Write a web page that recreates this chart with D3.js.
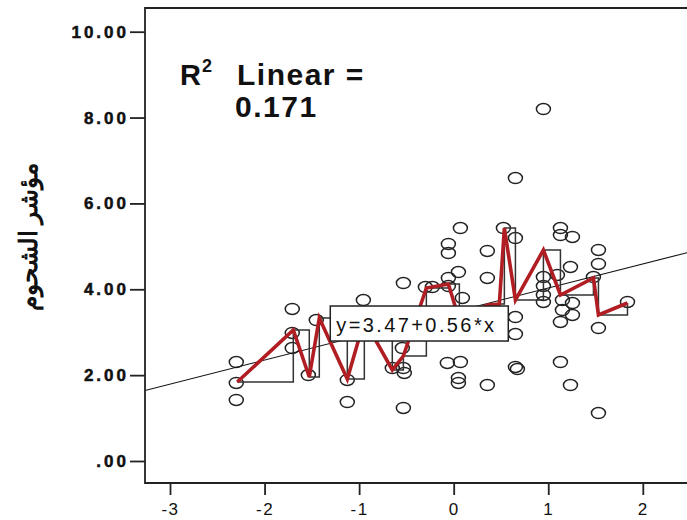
<!DOCTYPE html>
<html>
<head>
<meta charset="utf-8">
<script src="https://cdn.jsdelivr.net/npm/d3@7/dist/d3.min.js"></script>
<style>
  html, body { margin: 0; padding: 0; background: #fff; }
  svg { display: block; }
  text { font-family: "Liberation Sans", Arial, sans-serif; fill: #111; }
</style>
</head>
<body>
<svg id="chart" width="687" height="520"></svg>
<script>
// Observations: predictor (standardised) and fat index
const pointX = [
  -2.299, -2.299, -2.299, -1.707, -1.707, -1.707, -1.537, -1.453, -1.125, -1.125,
  -0.955, -0.649, -0.532, -0.522, -0.543, -0.532, -0.532, -0.299, -0.225, -0.056,
  -0.056, -0.056, -0.056, 0.071, 0.050, 0.092, -0.067, 0.071, 0.050, 0.050,
  0.356, 0.356, 0.356, 0.526, 0.653, 0.653, 0.653, 0.653, 0.653, 0.674,
  0.949, 0.949, 0.949, 0.949, 0.949, 1.129, 1.129, 1.256, 1.235, 1.097,
  1.150, 1.256, 1.150, 1.256, 1.129, 1.129, 1.235, 1.478, 1.531, 1.531,
  1.531, 1.531, 1.838
];
const pointY = [
  2.306, 1.817, 1.421, 3.541, 2.982, 2.632, 2.003, 3.284, 1.887, 1.374,
  3.750, 2.166, 2.166, 2.050, 2.632, 1.235, 4.146, 4.053, 4.053, 5.055,
  4.845, 4.263, 4.076, 5.427, 4.402, 3.797, 2.283, 2.306, 1.933, 1.817,
  4.892, 4.263, 1.770, 5.427, 5.194, 6.592, 3.354, 2.958, 2.190, 2.143,
  8.199, 4.286, 4.076, 3.867, 3.704, 5.427, 5.264, 5.218, 4.519, 4.333,
  3.750, 3.680, 3.517, 3.401, 3.238, 2.306, 1.770, 4.286, 4.915, 4.589,
  3.098, 1.118, 3.704
];

// Mean fat index at each distinct predictor value (interpolation line)
const meanX = [-2.289, -1.696, -1.527, -1.421, -1.125, -0.945, -0.649, -0.532, -0.289, -0.056,
               0.060, 0.356, 0.483, 0.536, 0.653, 0.949, 1.129, 1.478, 1.531, 1.838];
const meanY = [1.840, 3.051, 1.957, 3.331, 1.910, 3.284, 2.120, 2.446, 4.030, 4.123,
               3.284, 3.634, 3.657, 5.427, 3.750, 4.915, 3.867, 4.263, 3.401, 3.680];

// Linear fit
const fitIntercept = 3.47;
const fitSlope = 0.56;
const rSquared = "0.171";

// Axis ticks
const xTicks = [-3, -2, -1, 0, 1, 2];
const xTickLabels = ["-3", "-2", "-1", "0", "1", "2"];
const yTicks = [0, 2, 4, 6, 8, 10];
const yTickLabels = [".00", "2.00", "4.00", "6.00", "8.00", "10.00"];
const yTitle = "مؤشر الشحوم";

const svg = d3.select("#chart");

// Plot frame (right side runs past the page edge)
const frame = { left: 145, top: 8, bottom: 483, right: 720 };

const x = d3.scaleLinear().domain([-3, 2]).range([170, 642.8]);
const y = d3.scaleLinear().domain([0, 10]).range([461, 31.7]);

svg.append("defs").append("clipPath").attr("id", "plotClip")
  .append("rect")
  .attr("x", frame.left).attr("y", frame.top)
  .attr("width", frame.right - frame.left).attr("height", frame.bottom - frame.top);

const plot = svg.append("g").attr("clip-path", "url(#plotClip)");

// Scatter points
plot.append("g").selectAll("ellipse")
  .data(d3.range(pointX.length))
  .join("ellipse")
  .attr("cx", i => x(pointX[i]))
  .attr("cy", i => y(pointY[i]))
  .attr("rx", 7)
  .attr("ry", 5.6)
  .attr("fill", "none")
  .attr("stroke", "#222")
  .attr("stroke-width", 1.5);

// Fit line across the whole frame
const xLo = x.invert(frame.left), xHi = x.invert(frame.right);
plot.append("line")
  .attr("x1", x(xLo)).attr("y1", y(fitIntercept + fitSlope * xLo))
  .attr("x2", x(xHi)).attr("y2", y(fitIntercept + fitSlope * xHi))
  .attr("stroke", "#111")
  .attr("stroke-width", 1.1);

const meanPts = meanX.map((v, i) => [v, meanY[i]]);

// Step interpolation of the means
plot.append("path")
  .datum(meanPts)
  .attr("d", d3.line().x(d => x(d[0])).y(d => y(d[1])).curve(d3.curveStepAfter))
  .attr("fill", "none")
  .attr("stroke", "#333")
  .attr("stroke-width", 1.5);

// Straight interpolation of the means
plot.append("path")
  .datum(meanPts)
  .attr("d", d3.line().x(d => x(d[0])).y(d => y(d[1])))
  .attr("fill", "none")
  .attr("stroke", "#b01e23")
  .attr("stroke-width", 3.6)
  .attr("stroke-linejoin", "miter");

// Frame lines: left, top, bottom
const frameG = svg.append("g").attr("stroke", "#222").attr("stroke-width", 1.8).attr("fill", "none");
frameG.append("path")
  .attr("d", `M${frame.right},${frame.top}H${frame.left}V${frame.bottom}H${frame.right}`);

// Y axis
const yAxis = svg.append("g")
  .attr("transform", `translate(${frame.left},0)`)
  .call(d3.axisLeft(y).tickValues(yTicks)
    .tickFormat((d, i) => yTickLabels[i])
    .tickSize(15).tickPadding(1).tickSizeOuter(0));
yAxis.select(".domain").remove();
yAxis.selectAll(".tick line").attr("stroke", "#222").attr("stroke-width", 1.8);
yAxis.selectAll(".tick text")
  .attr("font-family", "'Liberation Sans', Arial, sans-serif")
  .attr("font-size", 17).attr("font-weight", "bold")
  .attr("letter-spacing", "3px")
  .attr("stroke", "#111").attr("stroke-width", 0.5)
  .attr("fill", "#111");

// X axis
const xAxis = svg.append("g")
  .attr("transform", `translate(0,${frame.bottom})`)
  .call(d3.axisBottom(x).tickValues(xTicks)
    .tickFormat((d, i) => xTickLabels[i])
    .tickSize(12).tickPadding(8).tickSizeOuter(0));
xAxis.select(".domain").remove();
xAxis.selectAll(".tick line").attr("stroke", "#222").attr("stroke-width", 1.8);
xAxis.selectAll(".tick text")
  .attr("font-family", "'Liberation Sans', Arial, sans-serif")
  .attr("font-size", 17)
  .attr("letter-spacing", "1.5px")
  .attr("fill", "#111");

// Y title
svg.append("text")
  .attr("transform", "translate(28,237) rotate(-90)")
  .attr("text-anchor", "middle")
  .attr("dominant-baseline", "central")
  .attr("font-family", "'DejaVu Sans', sans-serif")
  .attr("font-size", 25)
  .attr("font-weight", "bold")
  .text(yTitle);

// R squared annotation
const r2 = svg.append("g").attr("font-weight", "bold");
r2.append("text").attr("x", 180).attr("y", 85).attr("font-size", 29).text("R");
r2.append("text").attr("x", 202).attr("y", 72).attr("font-size", 18).text("2");
r2.append("text").attr("x", 237).attr("y", 85).attr("font-size", 30)
  .attr("letter-spacing", "1.5px").text("Linear =");
r2.append("text").attr("x", 235).attr("y", 117).attr("font-size", 30)
  .attr("letter-spacing", "1.5px").text(rSquared);

// Equation label for the fit line
const eqAnchor = { x: -1.305, y: 3.61 };
const eqG = svg.append("g").attr("transform", `translate(${x(eqAnchor.x)},${y(eqAnchor.y)})`);
eqG.append("rect")
  .attr("width", 178).attr("height", 35)
  .attr("fill", "#fff").attr("stroke", "#222").attr("stroke-width", 1.5);
eqG.append("text")
  .attr("x", 6).attr("y", 26)
  .attr("font-size", 20)
  .attr("letter-spacing", "2.4px")
  .text(`y=${fitIntercept.toFixed(2)}+${fitSlope.toFixed(2)}*x`);
</script>
</body>
</html>
